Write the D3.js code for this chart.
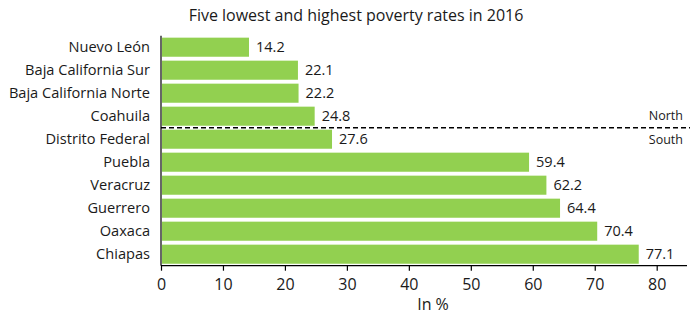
<!DOCTYPE html>
<html>
<head>
<meta charset="utf-8">
<script src="https://cdn.jsdelivr.net/npm/d3@7"></script>
<style>
  body { margin: 0; background: #fff; }
  text { font-family: "Open Sans", sans-serif; fill: #1a1a1a; }
</style>
</head>
<body>
<svg id="chart" width="694" height="314"></svg>
<script>
// data
var states = ['Nuevo León', 'Baja California Sur', 'Baja California Norte', 'Coahuila', 'Distrito Federal',
  'Puebla', 'Veracruz', 'Guerrero', 'Oaxaca', 'Chiapas']
var rates = [14.2, 22.1, 22.2, 24.8, 27.6, 59.4, 62.2, 64.4, 70.4, 77.1]
var xTicks = [0, 10, 20, 30, 40, 50, 60, 70, 80]
var regions = ['North', 'South']

var svg = d3.select('#chart')
var plotLeft = 161
var plotRight = 687
var plotTop = 35.7
var plotBottom = 265.7

var x = d3.scaleLinear().domain([0, 80]).range([plotLeft, 656.7])
var y = d3.scaleBand().domain(states).range([plotTop, plotBottom]).paddingInner(0.17).paddingOuter(0.085)

svg.append('text')
  .attr('x', 356).attr('y', 21)
  .attr('text-anchor', 'middle')
  .style('font-size', '16px')
  .text('Five lowest and highest poverty rates in 2016')

// bars
svg.selectAll('.bar').data(states).enter().append('rect')
  .attr('class', 'bar')
  .attr('x', x(0) + 1)
  .attr('y', function (d) { return y(d) })
  .attr('width', function (d, i) { return x(rates[i]) - x(0) - 1 })
  .attr('height', y.bandwidth())
  .attr('fill', '#92d050')

svg.selectAll('.val').data(states).enter().append('text')
  .attr('class', 'val')
  .attr('x', function (d, i) { return x(rates[i]) + 7 })
  .attr('y', function (d) { return y(d) + y.bandwidth() / 2 + 5 })
  .style('font-size', '14.5px')
  .text(function (d, i) { return rates[i].toFixed(1) })

svg.selectAll('.cat').data(states).enter().append('text')
  .attr('class', 'cat')
  .attr('x', 150)
  .attr('y', function (d) { return y(d) + y.bandwidth() / 2 + 5 })
  .attr('text-anchor', 'end')
  .style('font-size', '14.6px')
  .text(function (d) { return d })

// axes
svg.append('line')
  .attr('x1', plotLeft).attr('x2', plotLeft)
  .attr('y1', plotTop).attr('y2', plotBottom)
  .attr('stroke', '#000').attr('stroke-width', 1.2)

var xAxis = d3.axisBottom(x).tickValues(xTicks).tickSize(5).tickSizeOuter(0)
var gx = svg.append('g').attr('transform', 'translate(0,' + plotBottom + ')').call(xAxis)
gx.select('.domain').remove()
gx.append('line').attr('x1', plotLeft).attr('x2', plotRight).attr('stroke', '#000').attr('stroke-width', 1.2)
gx.selectAll('.tick line').attr('stroke', '#000').attr('stroke-width', 1.2)
gx.selectAll('.tick text')
  .attr('y', 13)
  .style('font-size', '16px')
  .style('font-family', '"Open Sans", sans-serif')
  .attr('fill', '#1a1a1a')

svg.append('text')
  .attr('x', 433).attr('y', 310)
  .attr('text-anchor', 'middle')
  .style('font-size', '16px')
  .text('In %')

// north / south divider
var divY = (y(states[3]) + y.bandwidth() + y(states[4])) / 2
svg.append('line')
  .attr('x1', plotLeft).attr('x2', 690)
  .attr('y1', divY).attr('y2', divY)
  .attr('stroke', '#000').attr('stroke-width', 1.6)
  .attr('stroke-dasharray', '5,3')

svg.selectAll('.region').data(regions).enter().append('text')
  .attr('class', 'region')
  .attr('x', 683)
  .attr('y', function (d, i) { return i === 0 ? divY - 8 : divY + 16 })
  .attr('text-anchor', 'end')
  .style('font-size', '12.5px')
  .text(function (d) { return d })
</script>
</body>
</html>
